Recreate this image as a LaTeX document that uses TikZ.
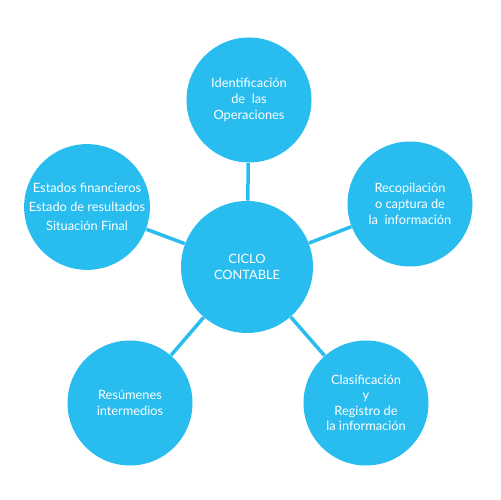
\documentclass[tikz,border=0pt]{standalone}
\usepackage{fontspec}
\setmainfont{Lato}
\definecolor{cielo}{RGB}{41,189,239}
\usetikzlibrary{positioning}

\begin{document}
\begin{tikzpicture}[x=1bp, y=1bp, thick,
  etapa/.style={circle, fill=cielo, inner sep=0pt, minimum size=125bp,
    text=white, align=center, font=\fontsize{12.8bp}{16bp}\selectfont},
  enlace/.style={draw=cielo, line width=3.5bp}]
  \useasboundingbox (0,0) rectangle (500,500);
  % 中心圆
  \node[etapa, minimum size=132bp] (ciclo) at (247,233) {CICLO\\CONTABLE};
  % 外围五个圆（顺时针，从上方开始）
  \node[etapa] (ident)  at (249,400) {Identificación\\de\ \ las\\Operaciones};
  \node[etapa] (recop)  at (410,296) {Recopilación\\o captura de\\la\ \ información};
  \node[etapa, font=\fontsize{12.8bp}{15.5bp}\selectfont]
               (clasif) at (366,97)  {Clasificación\\y\\Registro de\\la información};
  \node[etapa] (resum)  at (130,97)  {Resúmenes\\intermedios};
  \node[etapa, font=\fontsize{12.8bp}{19bp}\selectfont]
               (estados) at (87,293) {Estados financieros\\Estado de resultados\\Situación Final};
  % 连线
  \foreach \nd in {ident,recop,clasif,resum,estados}
    \draw[enlace] (ciclo) -- (\nd);
\end{tikzpicture}
\end{document}
